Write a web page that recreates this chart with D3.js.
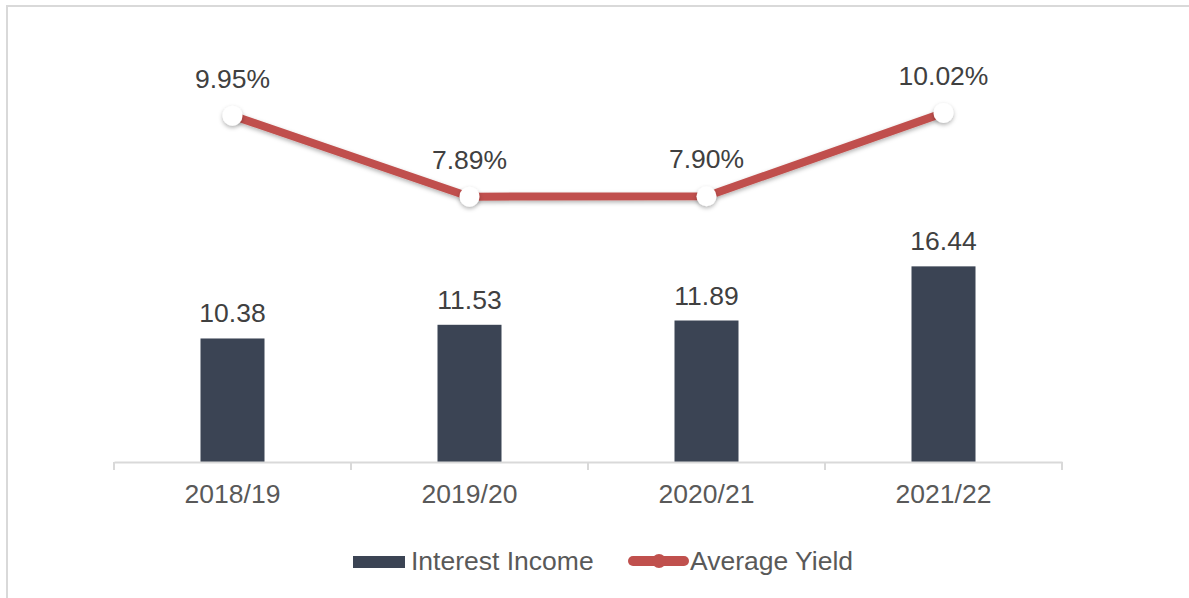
<!DOCTYPE html>
<html>
<head>
<meta charset="utf-8">
<script src="https://cdn.jsdelivr.net/npm/d3@7"></script>
<style>
  html, body { margin: 0; padding: 0; background: #fff; }
  svg { display: block; font-family: "Liberation Sans", Arial, sans-serif; }
</style>
</head>
<body>
<svg class="svg-main" width="1189" height="598"></svg>
<script>
// chart data
const years = ["2018/19", "2019/20", "2020/21", "2021/22"];
const interestIncome = [10.38, 11.53, 11.89, 16.44];
const averageYield = [9.95, 7.89, 7.90, 10.02];

const svg = d3.select(".svg-main");
const width = Number(svg.attr("width"));
const height = Number(svg.attr("height"));

const barColor = "#3b4454";
const lineColor = "#c0504d";
const fontSize = 26.5;

// outer frame (runs off the right and bottom edge)
svg.append("rect")
  .attr("x", 7).attr("y", 6)
  .attr("width", width + 20).attr("height", height + 20)
  .attr("fill", "none")
  .attr("stroke", "#d9d9d9")
  .attr("stroke-width", 2);

const defs = svg.append("defs");
const shadow = defs.append("filter")
  .attr("id", "shadow")
  .attr("x", "-20%").attr("y", "-20%")
  .attr("width", "140%").attr("height", "160%");
shadow.append("feDropShadow")
  .attr("dx", 0).attr("dy", 2)
  .attr("stdDeviation", 2)
  .attr("flood-color", "#000")
  .attr("flood-opacity", 0.3);

const x = d3.scaleBand()
  .domain(years)
  .range([114, 1062]);

const yBar = d3.scaleLinear()
  .domain([0, 30])
  .range([462, 105]);

const yLine = d3.scaleLinear()
  .domain([0, 12])
  .range([507, 35]);

// bars
const barW = 64;
svg.append("g")
  .selectAll("rect")
  .data(interestIncome)
  .enter().append("rect")
    .attr("x", (d, i) => x(years[i]) + x.bandwidth() / 2 - barW / 2)
    .attr("y", d => yBar(d))
    .attr("width", barW)
    .attr("height", d => yBar(0) - yBar(d))
    .attr("fill", barColor);

svg.append("g")
  .selectAll("text")
  .data(interestIncome)
  .enter().append("text")
    .attr("x", (d, i) => x(years[i]) + x.bandwidth() / 2)
    .attr("y", d => yBar(d) - 16)
    .attr("text-anchor", "middle")
    .attr("font-size", fontSize)
    .attr("fill", "#404040")
    .text(d => d.toFixed(2));

// x axis
const axis = svg.append("g")
  .attr("transform", `translate(0,${yBar(0)})`)
  .call(d3.axisBottom(x).tickSize(0).tickPadding(22));
axis.select(".domain").attr("stroke", "#d9d9d9").attr("stroke-width", 2);
axis.selectAll(".tick text")
  .attr("font-size", fontSize)
  .attr("font-family", "Liberation Sans, Arial, sans-serif")
  .attr("fill", "#595959");
axis.selectAll(".boundary")
  .data(d3.range(years.length + 1))
  .enter().append("line")
    .attr("x1", i => x.range()[0] + i * x.step())
    .attr("x2", i => x.range()[0] + i * x.step())
    .attr("y1", 0).attr("y2", 8)
    .attr("stroke", "#d9d9d9")
    .attr("stroke-width", 2);

// yield line
const cx = (d, i) => x(years[i]) + x.bandwidth() / 2;
const line = d3.line()
  .x(cx)
  .y(d => yLine(d));

svg.append("path")
  .datum(averageYield)
  .attr("d", line)
  .attr("fill", "none")
  .attr("stroke", lineColor)
  .attr("stroke-width", 8)
  .attr("stroke-linejoin", "round")
  .attr("filter", "url(#shadow)");

svg.append("g")
  .selectAll("circle")
  .data(averageYield)
  .enter().append("circle")
    .attr("cx", cx)
    .attr("cy", d => yLine(d))
    .attr("r", 10)
    .attr("fill", "#fff")
    .attr("filter", "url(#shadow)");

svg.append("g")
  .selectAll("text")
  .data(averageYield)
  .enter().append("text")
    .attr("x", cx)
    .attr("y", d => yLine(d) - 28)
    .attr("text-anchor", "middle")
    .attr("font-size", fontSize)
    .attr("fill", "#404040")
    .text(d => d.toFixed(2) + "%");

// legend
const legend = svg.append("g");
legend.append("rect")
  .attr("x", 353).attr("y", 556)
  .attr("width", 52).attr("height", 12)
  .attr("fill", barColor);
legend.append("text")
  .attr("x", 411).attr("y", 570)
  .attr("font-size", fontSize)
  .attr("fill", "#595959")
  .text("Interest Income");

legend.append("line")
  .attr("x1", 633).attr("x2", 684)
  .attr("y1", 561).attr("y2", 561)
  .attr("stroke", lineColor)
  .attr("stroke-width", 10)
  .attr("stroke-linecap", "round");
legend.append("circle")
  .attr("cx", 659).attr("cy", 561)
  .attr("r", 7)
  .attr("fill", lineColor);
legend.append("text")
  .attr("x", 690).attr("y", 570)
  .attr("font-size", fontSize)
  .attr("fill", "#595959")
  .text("Average Yield");
</script>
</body>
</html>
